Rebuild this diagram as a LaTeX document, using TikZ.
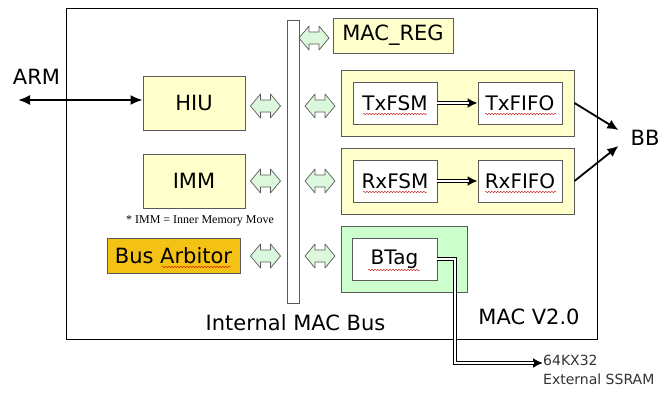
\documentclass[tikz,border=0pt]{standalone}
\usepackage{fontspec}
\setmainfont{DejaVu Sans}
\newfontfamily\notefont{Liberation Serif}
\usetikzlibrary{arrows.meta,positioning,calc,decorations.pathmorphing}
\definecolor{BoxYellow}{RGB}{255,255,204}
\definecolor{BoxGreen}{RGB}{204,255,204}
\definecolor{PortGreen}{RGB}{220,248,220}
\definecolor{ArbGold}{RGB}{244,194,20}
\definecolor{EdgeGray}{RGB}{90,90,90}

\begin{document}
\begin{tikzpicture}[x=1pt,y=-1pt,
  blk/.style={rectangle,draw=EdgeGray,line width=0.8pt,fill=BoxYellow,font=\fontsize{21}{24}\selectfont,inner sep=0pt},
  grp/.style={rectangle,draw=EdgeGray,line width=1pt,inner sep=0pt},
  sub/.style={rectangle,draw=EdgeGray,line width=0.8pt,fill=white,minimum width=84pt,minimum height=42pt,font=\fontsize{20}{24}\selectfont,inner sep=0pt},
  port/.pic={\draw[draw=EdgeGray,line width=0.7pt,fill=PortGreen,line join=round]
    (-15,0) -- (-5,-12) -- (-5,-6) -- (5,-6) -- (5,-12) -- (15,0) -- (5,12) -- (5,6) -- (-5,6) -- (-5,12) -- cycle;},
  lbl/.style={font=\fontsize{21}{24}\selectfont,inner sep=0pt},
  passout/.style={line width=3.2pt,-{Latex[length=10pt,width=10pt]}},
  passin/.style={line width=1.2pt,draw=white,shorten >=9pt},
  spell/.style={draw=red!80!black,line width=0.4pt,decorate,decoration={snake,amplitude=0.7pt,segment length=3pt}}
]
  \useasboundingbox (0,0) rectangle (661,392);
  % outer MAC block and internal bus
  \draw[line width=0.7pt] (66,8) rectangle (597,339);
  \node[rectangle,draw=EdgeGray,line width=0.8pt,fill=white,minimum width=12pt,minimum height=283pt,inner sep=0pt] (bus) at (293,161.5) {};
  % blocks left of the bus
  \node[blk,minimum width=102pt,minimum height=54pt] (hiu) at (194,103) {HIU};
  \node[blk,minimum width=102pt,minimum height=54pt] (imm) at (194,181) {IMM};
  \node[font=\notefont\fontsize{12}{14}\selectfont,inner sep=0pt] (note) at (200,221) {* IMM = Inner Memory Move};
  \node[blk,fill=ArbGold,minimum width=133pt,minimum height=35pt] (arb) at (173.5,255.5) {Bus Arbitor};
  % blocks right of the bus
  \node[blk,minimum width=120pt,minimum height=35pt] (macreg) at (393,35.5) {MAC\_REG};
  \node[grp,fill=BoxYellow,minimum width=233pt,minimum height=66pt] (txgrp) at (457.5,103) {};
  \node[sub] (txfsm) at (395,103) {TxFSM};
  \node[sub] (txfifo) at (520,103) {TxFIFO};
  \node[grp,fill=BoxYellow,minimum width=233pt,minimum height=66pt] (rxgrp) at (457.5,181) {};
  \node[sub] (rxfsm) at (395,181) {RxFSM};
  \node[sub] (rxfifo) at (520,181) {RxFIFO};
  \node[grp,fill=BoxGreen,minimum width=126pt,minimum height=66pt] (btgrp) at (404,259) {};
  \node[sub,minimum width=85pt] (btag) at (394.5,259) {BTag};
  % bus ports
  \pic (phiu) at (265.5,106) {port};
  \pic (pimm) at (265.5,181) {port};
  \pic (parb) at (265.5,256) {port};
  \pic (preg) at (314,38) {port};
  \pic (ptx) at (320,106) {port};
  \pic (prx) at (320,181) {port};
  \pic (pbt) at (320,256) {port};
  % labels
  \node[lbl] (arm) at (36.5,77) {ARM};
  \node[lbl] (bb) at (645,138) {BB};
  \node[lbl] (buslbl) at (295.5,323) {Internal MAC Bus};
  \node[lbl] (ver) at (529,317) {MAC V2.0};
  \node[font=\fontsize{14}{19}\selectfont,text=black!80,align=left,anchor=north west,inner sep=0pt] (ssram) at (543,355) {64KX32\\External SSRAM};
  \coordinate (armend) at (18,100);
  \coordinate (bend) at (455,363);
  % connectors
  \draw[line width=2pt,{Latex[length=12pt,width=10pt]}-{Latex[length=12pt,width=10pt]}] (armend) -- (armend -| hiu.west);
  \draw[passout] (txfsm) -- (txfifo);
  \draw[passin] (txfsm) -- (txfifo);
  \draw[passout] (rxfsm) -- (rxfifo);
  \draw[passin] (rxfsm) -- (rxfifo);
  \draw[line width=1.8pt,-{Latex[length=11pt,width=10pt]}] (txgrp.east) -- ($(bb.west)+(-12,-8)$);
  \draw[line width=1.8pt,-{Latex[length=11pt,width=10pt]}] (rxgrp.east) -- ($(bb.west)+(-12,8)$);
  \draw[passout] (btag.east) -- (btag.east -| bend) -- (bend) -- (bend -| ssram.west);
  \draw[passin] (btag.east) -- (btag.east -| bend) -- (bend) -- (bend -| ssram.west);
  % spell-check marks
  \draw[spell] (363,114) -- (427,114);
  \draw[spell] (485,114) -- (556,114);
  \draw[spell] (363,192) -- (427,192);
  \draw[spell] (485,192) -- (556,192);
  \draw[spell] (368,270) -- (420,270);
  \draw[spell] (162,267) -- (230,267);
\end{tikzpicture}
\end{document}
